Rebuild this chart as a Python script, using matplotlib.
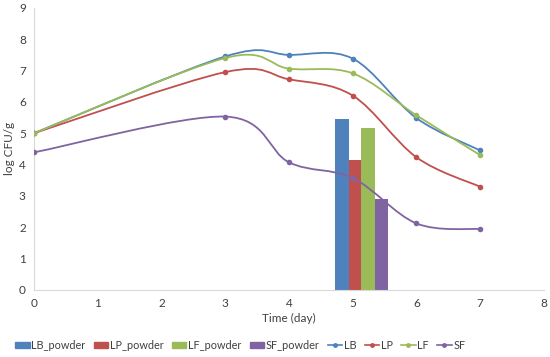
import numpy as np
import matplotlib
matplotlib.use("Agg")
import matplotlib.pyplot as plt
from matplotlib.path import Path
from matplotlib.patches import PathPatch
from matplotlib.lines import Line2D
from matplotlib.patches import Patch

plt.rcParams['font.family'] = ['Lato', 'DejaVu Sans']

days = [0, 3, 4, 5, 6, 7]
LB = [5.0, 7.45, 7.5, 7.38, 5.48, 4.45]
LP = [5.0, 6.95, 6.72, 6.2, 4.23, 3.29]
LF = [5.0, 7.4, 7.06, 6.91, 5.57, 4.3]
SF = [4.39, 5.53, 4.07, 3.57, 2.12, 1.94]

powder_names = ["LB_powder", "LP_powder", "LF_powder", "SF_powder"]
powder_vals = [5.46, 4.14, 5.17, 2.89]
powder_day = 5

colors = ["#4F81BD", "#C0504D", "#9BBB59", "#8064A2"]
line_names = ["LB", "LP", "LF", "SF"]

fig = plt.figure(figsize=(5.5, 3.57), dpi=100)
ax = fig.add_axes([0.062, 0.188, 0.927, 0.79])

# bars
width = 0.21
offsets = [-0.17, 0.04, 0.24, 0.45]
for v, c, off in zip(powder_vals, colors, offsets):
    ax.bar(powder_day + off, v, width=width, color=c, zorder=2)

def smooth_path(x, y, t=1/6):
    x = np.asarray(x, float); y = np.asarray(y, float)
    sx, sy = 63.75, 31.33
    X, Y = x * sx, y * sy
    verts = [(x[0], y[0])]
    codes = [Path.MOVETO]
    n = len(x)
    for i in range(n - 1):
        p0 = (X[i-1], Y[i-1]) if i > 0 else (X[i], Y[i])
        p1 = (X[i], Y[i]); p2 = (X[i+1], Y[i+1])
        p3 = (X[i+2], Y[i+2]) if i + 2 < n else (X[i+1], Y[i+1])
        c1 = (p1[0] + (p2[0]-p0[0])*t, p1[1] + (p2[1]-p0[1])*t)
        c2 = (p2[0] - (p3[0]-p1[0])*t, p2[1] - (p3[1]-p1[1])*t)
        verts += [(c1[0]/sx, c1[1]/sy), (c2[0]/sx, c2[1]/sy), (x[i+1], y[i+1])]
        codes += [Path.CURVE4]*3
    return Path(verts, codes)

for name, vals, c in zip(line_names, [LB, LP, LF, SF], colors):
    ax.add_patch(PathPatch(smooth_path(days, vals), fill=False, edgecolor=c, lw=1.3, zorder=3))
    ax.plot(days, vals, linestyle='none', marker='o', ms=3, color=c, zorder=4)

ax.set_xlim(0, 8)
ax.set_ylim(0, 9)
ax.set_xticks(range(0, 9))
ax.set_yticks(range(0, 10))
ax.tick_params(length=0, labelsize=8.5, colors='#404040', pad=6)
for s in ['top', 'right']:
    ax.spines[s].set_visible(False)
for s in ['left', 'bottom']:
    ax.spines[s].set_color('#D9D9D9')
    ax.spines[s].set_linewidth(0.8)
ax.set_xlabel("Time (day)", fontsize=8.5, color='#404040', labelpad=3)
ax.set_ylabel("log CFU/g", fontsize=8.5, color='#404040', labelpad=3)

handles = [Patch(color=c, label=n) for n, c in zip(powder_names, colors)]
handles += [Line2D([], [], color=c, marker='o', ms=2.5, lw=1.2, label=n) for n, c in zip(line_names, colors)]
fig.legend(handles=handles, loc='center', bbox_to_anchor=(0.437, 0.033), ncol=8, frameon=False,
           fontsize=7.8, handlelength=1.3, handleheight=0.55, handletextpad=0.15, columnspacing=0.8,
           labelcolor='#404040')

fig.savefig("out.png", dpi=100, facecolor='white')
